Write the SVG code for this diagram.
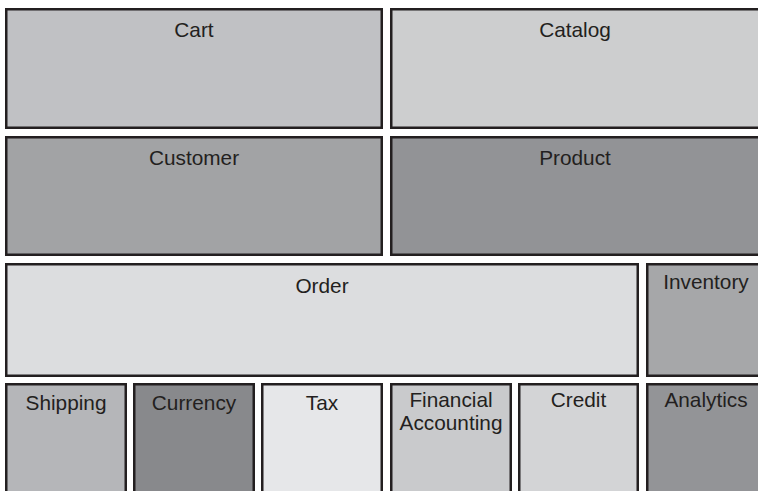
<svg xmlns="http://www.w3.org/2000/svg" width="758" height="491" viewBox="0 0 758 491">
<style>
rect{stroke:#231f20;stroke-width:2.5}
text{font-family:"Liberation Sans",Arial,sans-serif;font-size:20.8px;fill:#231f20;text-anchor:middle}
</style>
<rect x="0" y="0" width="758" height="491" fill="#ffffff" style="stroke:none"/>
<g id="cart"><rect x="6.25" y="9.25" width="375.5" height="118.5" fill="#c0c1c4"/><text x="194" y="37">Cart</text></g>
<g id="catalog"><rect x="391.25" y="9.25" width="380" height="118.5" fill="#cdcecf"/><text x="575" y="37">Catalog</text></g>
<g id="customer"><rect x="6.25" y="137.25" width="375.5" height="117.5" fill="#a2a3a5"/><text x="194" y="165">Customer</text></g>
<g id="product"><rect x="391.25" y="137.25" width="380" height="117.5" fill="#929396"/><text x="575" y="165">Product</text></g>
<g id="order"><rect x="6.25" y="264.25" width="631.5" height="111.5" fill="#dcdddf"/><text x="322" y="293">Order</text></g>
<g id="inventory"><rect x="647.25" y="264.25" width="120" height="111.5" fill="#a6a7a9"/><text x="706" y="289">Inventory</text></g>
<g id="shipping"><rect x="6.25" y="384.25" width="119.5" height="120" fill="#b5b6b9"/><text x="66" y="410">Shipping</text></g>
<g id="currency"><rect x="134.25" y="384.25" width="119.5" height="120" fill="#88898c"/><text x="194" y="410">Currency</text></g>
<g id="tax"><rect x="262.25" y="384.25" width="119.5" height="120" fill="#e6e7e9"/><text x="322" y="410">Tax</text></g>
<g id="financial-accounting"><rect x="391.25" y="384.25" width="119.5" height="120" fill="#c9cacc"/><text x="451" y="407">Financial</text><text x="451" y="430">Accounting</text></g>
<g id="credit"><rect x="519.25" y="384.25" width="118.5" height="120" fill="#d3d4d6"/><text x="578.5" y="407">Credit</text></g>
<g id="analytics"><rect x="647.25" y="384.25" width="120" height="120" fill="#939497"/><text x="706" y="407">Analytics</text></g>
<g id="connectors"/>
</svg>
